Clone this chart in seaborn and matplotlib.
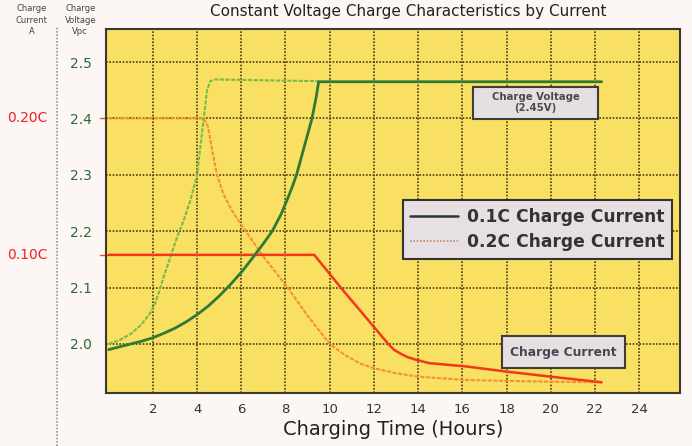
import pandas as pd
import matplotlib.pyplot as plt
from matplotlib.lines import Line2D
from matplotlib.patches import Rectangle
import matplotlib.transforms as mtransforms
import seaborn as sns

# --- DATA ---
# 0.1C charge voltage (solid dark green)
t_v01 = [0, 0.5, 1.0, 1.5, 2.0, 2.5, 3.0, 3.5, 4.0, 4.5, 5.0, 5.5, 6.0, 6.5, 7.0, 7.4,
         7.8, 8.1, 8.3, 8.5, 8.85, 9.2, 9.4, 9.5, 22.3]
v_01 = [1.99, 1.995, 2.0, 2.005, 2.011, 2.019, 2.028, 2.039, 2.052, 2.067, 2.085,
        2.105, 2.127, 2.152, 2.178, 2.20, 2.23, 2.258, 2.278, 2.30, 2.35, 2.40, 2.44,
        2.465, 2.465]

# 0.2C charge voltage (light green)
t_v02 = [0, 0.5, 1.0, 1.5, 1.9, 2.1, 2.3, 2.5, 2.8, 3.1, 3.4, 3.7, 4.0, 4.15, 4.3,
         4.45, 4.6, 4.8, 9.5]
v_02 = [2.0, 2.007, 2.018, 2.035, 2.056, 2.072, 2.095, 2.12, 2.155, 2.19, 2.22, 2.255,
        2.30, 2.35, 2.40, 2.45, 2.466, 2.469, 2.466]

# 0.2C charge current (orange), plotted on the voltage scale
t_i02 = [0, 4.3, 4.5, 4.7, 4.9, 5.2, 5.6, 6.2, 7.0, 8.1, 9.0, 10.0, 10.7, 11.4, 12.0,
         13.0, 14.0, 16.2, 20.0, 22.3]
i_02 = [2.4, 2.4, 2.385, 2.34, 2.30, 2.265, 2.235, 2.20, 2.155, 2.10, 2.05, 2.0, 1.98,
        1.965, 1.957, 1.948, 1.942, 1.936, 1.933, 1.932]

# 0.1C charge current (red)
t_i01 = [0, 9.3, 10.5, 12.65, 12.9, 13.2, 13.5, 13.9, 14.5, 16.2, 18.0, 20.0, 22.3]
i_01 = [2.158, 2.158, 2.10, 2.0, 1.99, 1.983, 1.977, 1.972, 1.966, 1.96, 1.951, 1.942,
        1.932]

x_ticks = [2, 4, 6, 8, 10, 12, 14, 16, 18, 20, 22, 24]
y_ticks = [2.0, 2.1, 2.2, 2.3, 2.4, 2.5]
current_labels = ['0.20C', '0.10C']
current_levels = [2.4, 2.158]

# --- STYLE ---
sns.set_style('white')
plt.rcParams['font.family'] = ['DejaVu Sans']

fig = plt.figure(figsize=(6.92, 4.46), dpi=100, facecolor='#fcf6f4')
ax = fig.add_axes([0.1532, 0.1188, 0.8295, 0.8155])
ax.set_facecolor('#f9df62')

grid_kw = dict(color='#463c18', lw=1.2, ls=(0, (1, 1)), zorder=1)
for y in y_ticks:
    ax.axhline(y, **grid_kw)
for x in x_ticks:
    ax.axvline(x, **grid_kw)

df_v01 = pd.DataFrame({'t': t_v01, 'v': v_01})
df_v02 = pd.DataFrame({'t': t_v02, 'v': v_02})
df_i02 = pd.DataFrame({'t': t_i02, 'v': i_02})
df_i01 = pd.DataFrame({'t': t_i01, 'v': i_01})

sns.lineplot(data=df_i02, x='t', y='v', ax=ax, color='#f39234', lw=1.5,
             ls=(0, (2, 0.7)), estimator=None, zorder=3)
sns.lineplot(data=df_i01, x='t', y='v', ax=ax, color='#f2381c', lw=1.8,
             estimator=None, zorder=4)
sns.lineplot(data=df_v02, x='t', y='v', ax=ax, color='#78bb48', lw=1.5,
             ls=(0, (2, 0.7)), estimator=None, zorder=3)
sns.lineplot(data=df_v01, x='t', y='v', ax=ax, color='#2f7a34', lw=2.0,
             estimator=None, zorder=5)

ax.set_xlim(-0.12, 25.85)
ax.set_ylim(1.913, 2.558)
ax.set_xticks(x_ticks)
ax.set_yticks(y_ticks)
ax.set_yticklabels([f'{y:.1f}' for y in y_ticks])
ax.tick_params(axis='y', length=0, pad=10, labelsize=10, labelcolor='#2a6a30')
ax.tick_params(axis='x', length=0, pad=7, labelsize=9.5, labelcolor='#333333')
ax.set_xlabel('Charging Time (Hours)', fontsize=14, color='#222222', labelpad=3)
ax.set_ylabel('')
for s in ax.spines.values():
    s.set_color('#3a3a30')
    s.set_linewidth(1.5)

# --- TEXT ---
fig.text(0.59, 0.975, 'Constant Voltage Charge Characteristics by Current',
         ha='center', va='center', fontsize=11, color='#222222')
fig.text(0.046, 0.955, 'Charge\nCurrent\nA', ha='center', va='center',
         fontsize=6, color='#444444', linespacing=1.35)
fig.text(0.116, 0.955, 'Charge\nVoltage\nVpc', ha='center', va='center',
         fontsize=6, color='#444444', linespacing=1.35)

trans = mtransforms.blended_transform_factory(fig.transFigure, ax.transData)
for lab, lev in zip(current_labels, current_levels):
    ax.text(0.039, lev, lab, transform=trans, ha='center', va='center',
            fontsize=10, color='#f02020')
    ax.plot([0.145, 0.155], [lev, lev], transform=trans, color='#f24a2a',
            lw=1, clip_on=False)

# ruler line on the left
fig.add_artist(Line2D([0.0825, 0.0825], [0.0, 0.94], color='#999999',
                      lw=1.2, ls=(0, (1, 1))))

# annotation boxes
box_kw = dict(fc='#e6dfe2', ec='#3d3d3d', lw=1.5, zorder=6)
ax.add_patch(Rectangle((16.48, 2.399), 5.66, 0.0567, **box_kw))
ax.text(19.31, 2.4275, 'Charge Voltage\n(2.45V)', ha='center', va='center',
        fontsize=7.3, fontweight='bold', color='#4a4a4a', linespacing=1.15,
        zorder=7)
ax.add_patch(Rectangle((17.78, 1.957), 5.58, 0.0572, **box_kw))
ax.text(20.57, 1.9856, 'Charge Current', ha='center', va='center',
        fontsize=8.8, fontweight='bold', color='#454555', zorder=7)

handles = [Line2D([], [], color='#2a3a2a', lw=1.8),
           Line2D([], [], color='#c08a6a', lw=1.2, ls=(0, (1, 1)))]
leg = ax.legend(handles, ['0.1C Charge Current', '0.2C Charge Current'],
                loc='upper left', bbox_to_anchor=(0.517, 0.531),
                borderaxespad=0, frameon=True, fancybox=False, framealpha=1,
                facecolor='#e6e0e4', edgecolor='#333333',
                prop={'size': 12.3, 'weight': 'bold'}, handlelength=2.8,
                borderpad=0.45, labelspacing=0.45, handletextpad=0.5)
leg.get_frame().set_linewidth(1.5)
for t in leg.get_texts():
    t.set_color('#333333')
leg.set_zorder(8)

fig.savefig('out.png', dpi=100, facecolor=fig.get_facecolor())
